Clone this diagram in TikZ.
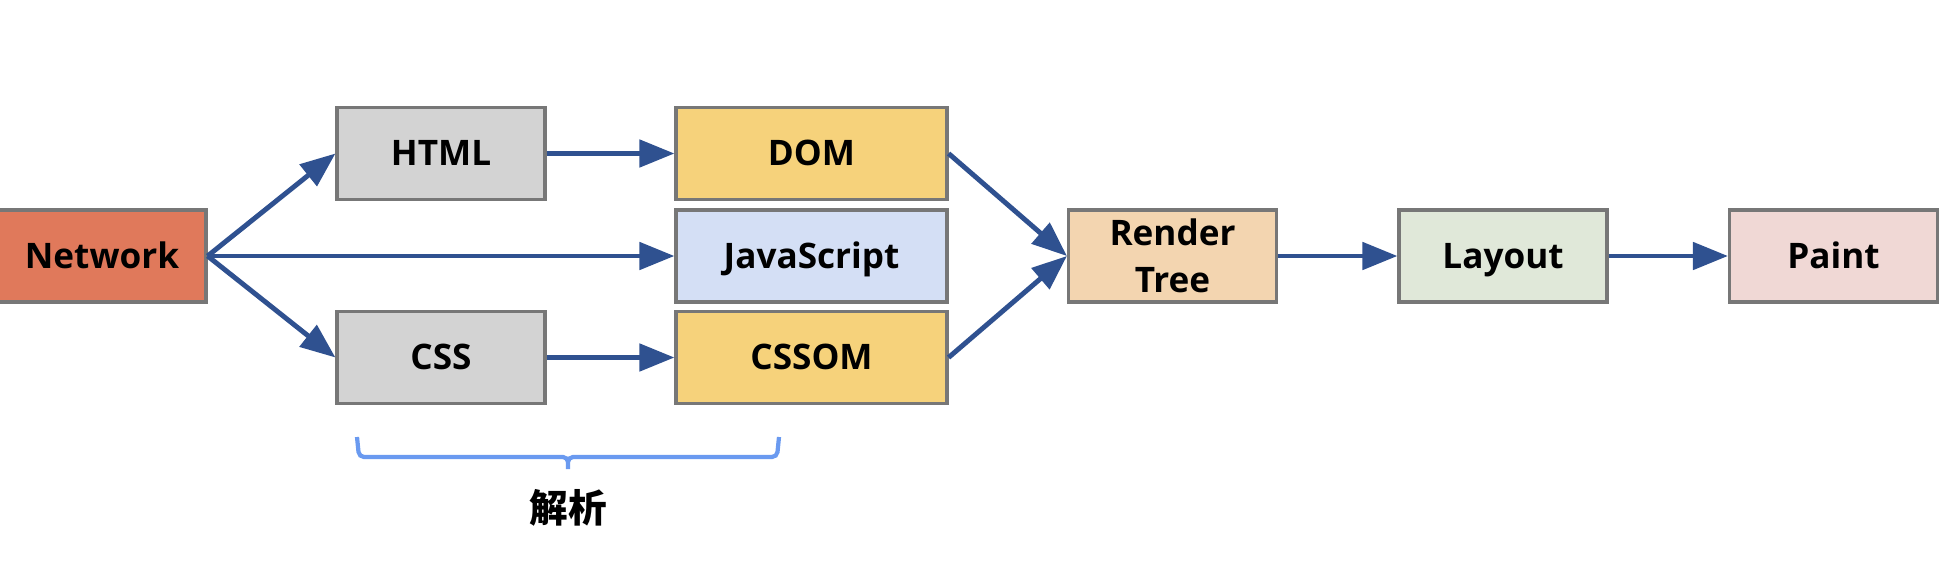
\documentclass[tikz,border=0pt]{standalone}
\usepackage{fontspec}
\setmainfont{Open Sans}
\newfontfamily\cjk{Noto Sans CJK SC}
\usetikzlibrary{positioning}
\usetikzlibrary{arrows.meta}
\definecolor{edge}{RGB}{47,81,144}
\definecolor{frame}{RGB}{119,119,119}
\definecolor{netfill}{RGB}{224,121,91}
\definecolor{srcfill}{RGB}{211,211,211}
\definecolor{omfill}{RGB}{246,210,123}
\definecolor{jsfill}{RGB}{212,223,245}
\definecolor{treefill}{RGB}{243,213,176}
\definecolor{layfill}{RGB}{224,232,217}
\definecolor{paintfill}{RGB}{240,216,213}
\definecolor{bracec}{RGB}{106,154,240}
\tikzstyle{box} = [draw=frame, line width=0.9pt, minimum width=2.08cm, minimum height=0.92cm,
  inner sep=0pt, align=center, font=\bfseries\fontsize{10}{13.4}\selectfont]
\tikzstyle{one line} = [box, text height=0.96em, text depth=0.25em]
\tikzstyle{wide box} = [one line, minimum width=2.71cm]
\tikzstyle{flow} = [-{Triangle[length=0.35cm,width=0.27cm]}, draw=edge, fill=edge, line width=1.4pt]

\begin{document}
\begin{tikzpicture}

        \useasboundingbox (0,0) rectangle (19.52,5.68);

        \node[one line, fill=netfill] (network) at (1.02,3.12) {Network};

        \node[one line, fill=srcfill] (html) at (4.41,4.145) {HTML};
        \node[one line, fill=srcfill] (css) at (4.41,2.105) {CSS};

        \node[wide box, fill=omfill] (dom) at (8.115,4.145) {DOM};
        \node[wide box, fill=jsfill] (js) at (8.115,3.12) {JavaScript};
        \node[wide box, fill=omfill] (cssom) at (8.115,2.105) {CSSOM};

        \node[box, fill=treefill] (render) at (11.725,3.12) {Render\\Tree};
        \node[one line, fill=layfill] (layout) at (15.03,3.12) {Layout};
        \node[one line, fill=paintfill] (paint) at (18.335,3.12) {Paint};

        \draw[flow] (network.east) -- (html.west);
        \draw[flow] (network.east) -- (js.west);
        \draw[flow] (network.east) -- (css.west);
        \draw[flow] (html.east) -- (dom.west);
        \draw[flow] (css.east) -- (cssom.west);
        \draw[flow] (dom.east) -- (render.west);
        \draw[flow] (cssom.east) -- (render.west);
        \draw[flow] (render.east) -- (layout.west);
        \draw[flow] (layout.east) -- (paint.west);

        % parsing step
        \coordinate (bl) at (3.57,1.31);
        \coordinate (br) at (7.79,1.31);
        \coordinate (tip) at (5.68,0.96);
        \draw[bracec, line width=1.2pt, rounded corners=0.05cm]
            (bl) -- ++(0.02,-0.2) -| (tip) |- ([xshift=-0.02cm, yshift=-0.2cm]br) -- (br);
        \node[font=\cjk\bfseries\fontsize{11}{13}\selectfont] (parse) at (5.68,0.60) {解析};

    \end{tikzpicture}
\end{document}
